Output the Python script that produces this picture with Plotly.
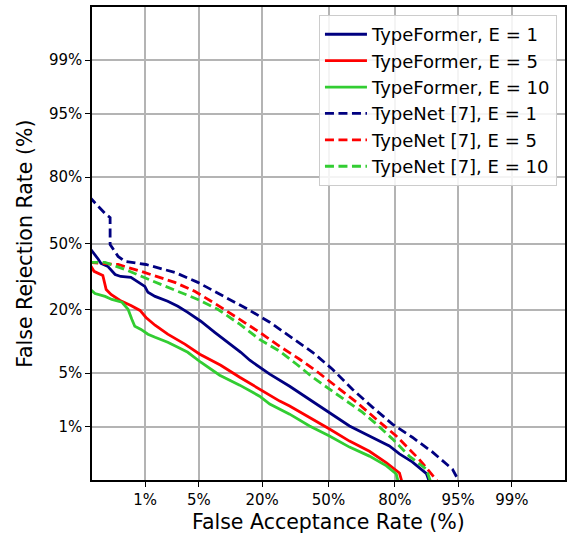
import plotly.graph_objects as go
from statistics import NormalDist

# ---- data (percent) ----
tick_pct = [1, 5, 20, 50, 80, 95, 99]
tick_labels = ["1%", "5%", "20%", "50%", "80%", "95%", "99%"]

TF1_far = [0.12, 0.153, 0.175, 0.195, 0.258, 0.34, 0.42, 0.61, 0.78, 0.99, 1.10, 1.39, 2.07, 2.80, 3.71, 5.26, 7.45, 10.1, 13.3, 15.9, 22.8, 31.1, 40.5, 50.5, 60.5, 69.8, 78.0, 81.6, 85.6, 89.3, 90.4]
TF1_frr = [48.0, 44.5, 42.1, 40.0, 38.5, 34.7, 33.8, 33.4, 31.5, 29.3, 26.8, 25.1, 23.2, 21.3, 19.1, 16.2, 13.0, 10.5, 8.38, 6.93, 4.87, 3.51, 2.41, 1.62, 1.03, 0.73, 0.51, 0.38, 0.28, 0.175, 0.1]

TF5_far = [0.12, 0.147, 0.21, 0.24, 0.29, 0.41, 0.61, 0.84, 1.03, 1.39, 2.07, 3.42, 5.13, 8.58, 13.0, 19.1, 26.8, 31.1, 40.5, 50.5, 60.5, 69.8, 76.9, 81.6, 82.9]
TF5_frr = [40.0, 36.2, 34.3, 28.0, 25.9, 23.5, 21.6, 19.8, 17.4, 15.0, 12.5, 10.1, 8.0, 6.13, 4.49, 3.23, 2.28, 1.96, 1.38, 0.93, 0.61, 0.42, 0.27, 0.18, 0.1]

TF10_far = [0.12, 0.153, 0.23, 0.30, 0.44, 0.55, 0.63, 0.70, 0.87, 1.10, 1.39, 2.07, 2.80, 3.71, 5.26, 8.38, 13.0, 19.1, 22.8, 31.1, 40.5, 50.5, 60.5, 69.8, 76.9, 80.5, 81.6]
TF10_frr = [28.4, 26.3, 25.1, 23.9, 22.8, 20.2, 16.8, 14.7, 13.8, 12.5, 11.7, 10.5, 9.4, 8.38, 6.6, 4.74, 3.62, 2.64, 2.08, 1.52, 1.03, 0.73, 0.49, 0.35, 0.24, 0.173, 0.1]

TN1_far = [0.12, 0.175, 0.23, 0.28, 0.28, 0.38, 0.49, 1.03, 2.56, 4.87, 8.58, 15.3, 22.8, 31.1, 42.0, 52.0, 61.9, 71.1, 79.1, 85.6, 90.6, 94.2, 95.5]
TN1_frr = [72.4, 68.0, 64.8, 62.9, 49.5, 43.5, 41.0, 39.5, 35.7, 31.1, 25.9, 20.2, 15.9, 11.9, 8.38, 5.54, 3.23, 1.90, 1.10, 0.70, 0.41, 0.21, 0.1]

TN5_far = [0.12, 0.38, 0.87, 1.52, 2.56, 4.49, 7.45, 13.0, 19.1, 26.8, 35.7, 44.0, 54.0, 63.8, 72.8, 80.5, 87.5, 92.55]
TN5_frr = [40.5, 39.5, 36.2, 33.8, 31.1, 27.2, 22.4, 16.8, 13.0, 9.61, 7.1, 5.26, 3.51, 2.22, 1.29, 0.73, 0.31, 0.1]

TN10_far = [0.12, 0.23, 0.49, 0.99, 1.67, 2.80, 4.87, 8.0, 13.0, 19.1, 26.8, 34.3, 42.0, 50.5, 59.0, 66.6, 72.8, 79.1, 84.7, 89.3, 90.6]
TN10_frr = [40.5, 40.5, 37.1, 33.4, 30.2, 27.2, 23.9, 20.2, 15.3, 11.2, 8.58, 6.28, 4.49, 3.23, 2.28, 1.62, 1.10, 0.66, 0.35, 0.21, 0.1]

series = [
    ("TypeFormer, E = 1", TF1_far, TF1_frr, "#000080", "solid"),
    ("TypeFormer, E = 5", TF5_far, TF5_frr, "#ff0000", "solid"),
    ("TypeFormer, E = 10", TF10_far, TF10_frr, "#32cd32", "solid"),
    ("TypeNet [7], E = 1", TN1_far, TN1_frr, "#000080", "9px,4.5px"),
    ("TypeNet [7], E = 5", TN5_far, TN5_frr, "#ff0000", "9px,4.5px"),
    ("TypeNet [7], E = 10", TN10_far, TN10_frr, "#32cd32", "9px,4.5px"),
]

nd = NormalDist()
def probit(vals):
    return [nd.inv_cdf(v / 100.0) for v in vals]

fig = go.Figure()
for i, (name, far, frr, color, dash) in enumerate(series):
    fig.add_trace(go.Scatter(
        x=probit(far), y=probit(frr), mode="lines", name=name,
        line=dict(color=color, width=2.8, dash=dash),
    ))

font = "DejaVu Sans, sans-serif"
tickvals = probit(tick_pct)
axis_common = dict(
    range=[-3, 3], tickmode="array", tickvals=tickvals, ticktext=tick_labels,
    showgrid=True, gridcolor="#b4b4b4", gridwidth=1.5,
    showline=True, linecolor="black", linewidth=1.5, mirror=True,
    ticks="outside", ticklen=5, tickwidth=1.3, tickcolor="black",
    zeroline=False, automargin=False,
    tickfont=dict(family=font, size=15, color="#000"),
)
fig.update_xaxes(**axis_common)
fig.update_yaxes(**axis_common)

title_font = dict(family=font, size=20.5, color="#000")
fig.add_annotation(text="False Acceptance Rate (%)", xref="paper", yref="paper",
                   x=0.5, y=-0.088, xanchor="center", yanchor="middle",
                   showarrow=False, font=title_font)
fig.add_annotation(text="False Rejection Rate (%)", xref="paper", yref="paper",
                   x=-0.143, y=0.5, xanchor="center", yanchor="middle",
                   textangle=-90, showarrow=False, font=title_font)

fig.update_layout(
    width=568, height=535,
    margin=dict(l=92, r=3, t=7, b=55),
    plot_bgcolor="white", paper_bgcolor="white",
    font=dict(family=font),
    legend=dict(
        x=0.983, y=0.983, xanchor="right", yanchor="top",
        bgcolor="rgba(255,255,255,0.85)", bordercolor="#cccccc", borderwidth=1,
        font=dict(family=font, size=18, color="#000"),
        itemwidth=42,
    ),
)

fig.write_html("out.html", config={"displayModeBar": False},
               post_script="document.body.style.margin='0';document.body.style.padding='0';")
